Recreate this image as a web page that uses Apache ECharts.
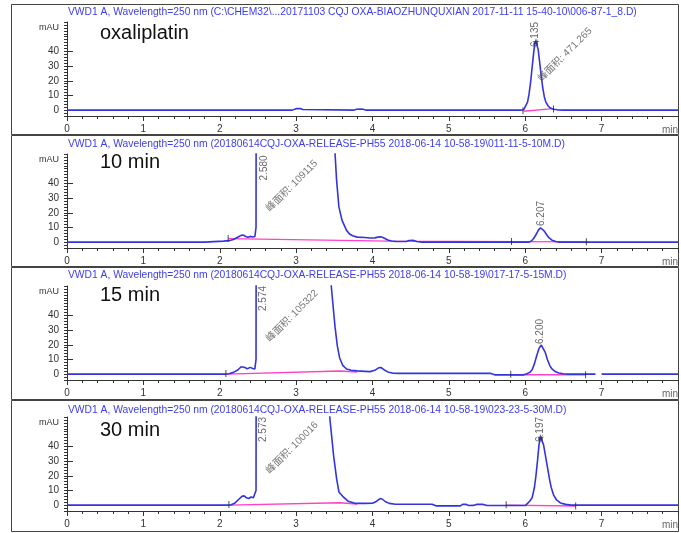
<!DOCTYPE html>
<html>
<head>
<meta charset="utf-8">
<script src="https://cdn.jsdelivr.net/npm/echarts@6/dist/echarts.min.js"></script>
<style>
html, body { margin: 0; padding: 0; background: #fff; }
#main { width: 681px; height: 533px; }
</style>
</head>
<body>
<div id="main"></div>
<script>
// run headers and sample names
var runTitles = [
  'VWD1 A, Wavelength=250 nm (C:\\CHEM32\\...20171103 CQJ OXA-BIAOZHUNQUXIAN 2017-11-11 15-40-10\\006-87-1_8.D)',
  'VWD1 A, Wavelength=250 nm (20180614CQJ-OXA-RELEASE-PH55 2018-06-14 10-58-19\\011-11-5-10M.D)',
  'VWD1 A, Wavelength=250 nm (20180614CQJ-OXA-RELEASE-PH55 2018-06-14 10-58-19\\017-17-5-15M.D)',
  'VWD1 A, Wavelength=250 nm (20180614CQJ-OXA-RELEASE-PH55 2018-06-14 10-58-19\\023-23-5-30M.D)'
];
var sampleNames = ['oxaliplatin', '10 min', '15 min', '30 min'];
var yTickLabels = [0, 10, 20, 30, 40];

// signal traces [min, mAU]; big solvent peak runs off scale
var traceOxa = [[0,0],[2.95,0],[2.97,0.6],[3.0,1.0],[3.06,1.0],[3.09,0.4],[3.11,0],[3.76,0],[3.79,0.6],[3.84,0.8],[3.88,0.6],[3.91,0],
  [5.94,0],[5.96,0.6],[5.98,0.3],[6.0,1.5],[6.03,5.5],[6.05,11],[6.07,19],[6.09,29],[6.11,39],[6.125,45],[6.14,47],[6.155,46],
  [6.17,41],[6.19,32],[6.21,23],[6.23,15],[6.25,9],[6.27,5.5],[6.3,2.8],[6.33,1.4],[6.37,0.6],[6.42,0.2],[6.5,0],[8,0]];
var trace10 = [[0,0],[1.8,0],[1.82,0.7],[2.05,0.7],[2.12,1.0],[2.18,1.8],[2.24,3.5],[2.28,4.6],[2.31,4.8],[2.34,3.8],[2.37,3.3],
  [2.4,3.9],[2.43,3.5],[2.46,3.8],[2.475,10],[2.485,500],[3.5,500],[3.51,60],[3.53,42],[3.56,24],[3.6,15],[3.66,8],[3.7,5.5],
  [3.74,4.3],[3.8,3.4],[3.9,3.2],[3.97,2.8],[4.03,2.9],[4.07,3.4],[4.11,3.6],[4.15,2.8],[4.2,1.5],[4.25,0.8],[4.3,0.5],[4.44,0.4],
  [4.48,1.1],[4.53,1.2],[4.58,0.4],[4.65,0],[6.05,0],[6.08,0.8],[6.11,2.5],[6.14,5],[6.17,8],[6.2,9.8],[6.22,9.5],[6.25,7.5],
  [6.28,5],[6.31,3],[6.35,1.3],[6.4,0.4],[6.45,0],[8,0]];
var trace15 = [[0,0],[2.06,0],[2.08,0.5],[2.12,0.3],[2.18,1.2],[2.24,3],[2.28,5],[2.3,6],[2.33,4.5],[2.36,3.6],[2.4,4.6],[2.43,3.8],
  [2.46,3.6],[2.475,10],[2.485,500],[3.45,500],[3.46,60],[3.49,43],[3.51,32],[3.54,19],[3.57,11],[3.61,6],[3.66,3.5],[3.72,2.6],
  [3.8,2.2],[3.9,1.9],[3.97,1.7],[4.03,2.6],[4.08,4.3],[4.11,4.5],[4.15,3],[4.2,1.5],[4.27,0.6],[4.35,0.5],[5.55,0.5],[5.6,-0.5],
  [5.98,-0.5],[6.02,0.3],[6.06,1.2],[6.09,3],[6.12,7],[6.15,12.5],[6.18,17.5],[6.21,19.8],[6.23,19],[6.26,15],[6.29,10],[6.32,6],
  [6.35,3.5],[6.39,1.8],[6.44,0.8],[6.5,0.3],[6.56,0],[6.92,0],[6.95,null],[7.0,0],[8,0]];
var trace30 = [[0,0],[2.1,0],[2.12,0.6],[2.15,0.3],[2.2,1.5],[2.25,4],[2.29,6],[2.32,6.3],[2.35,5],[2.38,4.5],[2.41,5.5],[2.44,5],
  [2.46,5],[2.475,10],[2.485,500],[3.43,500],[3.44,60],[3.49,34],[3.53,18],[3.56,9],[3.61,6],[3.68,2.7],[3.77,1.2],[3.9,1.2],
  [4.0,1.3],[4.05,2.5],[4.1,4.5],[4.13,4],[4.17,2.3],[4.22,1.2],[4.3,0.6],[4.78,0.6],[4.83,-0.5],[5.15,-0.5],[5.18,0.5],[5.22,0.6],
  [5.26,-0.3],[5.32,-0.2],[5.36,0.5],[5.45,0.5],[5.5,-0.3],[6.0,-0.3],[6.03,1.2],[6.06,2.8],[6.09,5],[6.12,12],[6.14,20],[6.16,30],
  [6.18,41],[6.2,46.5],[6.22,45.5],[6.24,41],[6.26,35],[6.28,29],[6.3,23],[6.32,17],[6.34,12],[6.37,7],[6.41,3.5],[6.46,1.5],
  [6.53,0.5],[6.6,0],[8,0]];

// integration baselines (magenta)
var baseOxa = [[5.98,-0.8],[6.36,1.0]];
var base10 = [[2.11,2.4],[4.22,0.7],[6.8,0.2]];
var base15 = [[2.09,0],[3.57,2.1],[3.8,1.4],[3.81,null],[5.81,-0.4],[6.79,-0.4]];
var base30 = [[2.12,0],[3.57,1.6],[3.8,0.8],[3.81,null],[5.75,0],[6.66,-0.6]];

// retention time labels [min, mAU, text]
var rtOxa = [[6.135, 43, '6.135']];
var rt10 = [[2.58, 42, '2.580'], [6.207, 11, '6.207']];
var rt15 = [[2.574, 43, '2.574'], [6.2, 20.5, '6.200']];
var rt30 = [[2.573, 43, '2.573'], [6.197, 43, '6.197']];

// peak area labels [min, mAU, text]
var areaOxa = [[6.19, 20.4, '峰面积: 471.265']];
var area10 = [[2.63, 21.8, '峰面积: 109115']];
var area15 = [[2.63, 23, '峰面积: 105322']];
var area30 = [[2.63, 22.4, '峰面积: 100016']];

// apex markers and integration event ticks
var apexOxa = [[6.14, 46.5]];
var apex30 = [[6.2, 46]];
var tickOxa = [[5.97, -0.5], [6.37, 0.8]];
var tick10 = [[2.11, 2.4], [5.82, 0.5], [6.8, 0.2]];
var tick15 = [[2.08, 0.5], [5.81, 0], [6.79, -0.4]];
var tick30 = [[2.12, 0.5], [5.75, 0.3], [6.66, -0.6]];

var traces = [traceOxa, trace10, trace15, trace30];
var bases = [baseOxa, base10, base15, base30];
var rts = [rtOxa, rt10, rt15, rt30];
var areas = [areaOxa, area10, area15, area30];
var apexes = [apexOxa, [], [], apex30];
var evTicks = [tickOxa, tick10, tick15, tick30];

var FONT = 'Liberation Sans, Arial, Noto Sans CJK SC, sans-serif';
var gridTops = [22, 154, 286, 417];
var gridH = 94;
var boxes = [[4, 130], [135, 131], [267, 132], [400, 131]];
var titleTops = [7, 139, 270, 405];
var nameTops = [23, 152, 285, 420];

var minorY = [];
for (var v = -4; v <= 60; v += 2) minorY.push(v);

var myChart = echarts.init(document.getElementById('main'));

var grids = [], xAxes = [], yAxes = [], series = [], titles = [], graphics = [];
for (var i = 0; i < 4; i++) {
  grids.push({ left: 67, right: 3, top: gridTops[i], height: gridH });
  xAxes.push({
    type: 'value', gridIndex: i, min: 0, max: 8, interval: 1,
    axisLine: { onZero: false, lineStyle: { color: '#333', width: 1 } },
    axisTick: { length: 5, lineStyle: { color: '#333' } },
    minorTick: { show: true, splitNumber: 5, length: 3, lineStyle: { color: '#333' } },
    splitLine: { show: false },
    axisLabel: {
      fontSize: 10, color: '#333', margin: 8, fontFamily: FONT,
      formatter: function (v) { return v === 8 ? '' : String(v); }
    },
    name: 'min', nameLocation: 'end', nameGap: 0,
    nameTextStyle: { align: 'right', verticalAlign: 'top', padding: [9, 0, 0, 0], color: '#666', fontSize: 10, fontFamily: FONT }
  });
  yAxes.push({
    type: 'value', gridIndex: i, min: -4, max: 60,
    axisLine: { show: true, onZero: false, lineStyle: { color: '#333', width: 1 } },
    axisTick: { show: true, length: 3, customValues: minorY, lineStyle: { color: '#333' } },
    axisLabel: {
      customValues: yTickLabels.concat([56]), fontSize: 10, color: '#333', margin: 8, fontFamily: FONT,
      formatter: function (v) { return v === 56 ? '{u|mAU}' : String(v); },
      rich: { u: { fontSize: 9, color: '#333', fontFamily: FONT } }
    },
    splitLine: { show: false }
  });
  yAxes.push({
    type: 'value', gridIndex: i, min: -4, max: 60,
    axisLine: { show: false },
    axisTick: { show: true, length: 6, customValues: yTickLabels, lineStyle: { color: '#333' } },
    axisLabel: { show: false },
    splitLine: { show: false }
  });

  series.push({
    type: 'line', xAxisIndex: i, yAxisIndex: 2 * i, data: bases[i], symbol: 'none',
    lineStyle: { color: '#ff40c8', width: 1.4 }, z: 2, silent: true
  });
  series.push({
    type: 'line', xAxisIndex: i, yAxisIndex: 2 * i, data: traces[i], symbol: 'none', clip: true,
    lineStyle: { color: '#3434dc', width: 1.6 }, z: 3, silent: true
  });
  series.push({
    type: 'scatter', xAxisIndex: i, yAxisIndex: 2 * i, data: evTicks[i], symbol: 'rect', symbolSize: [1, 7],
    itemStyle: { color: '#222' }, z: 4, silent: true
  });
  series.push({
    type: 'scatter', xAxisIndex: i, yAxisIndex: 2 * i, data: rts[i], symbolSize: 0, z: 5, silent: true,
    label: {
      show: true, position: 'inside', rotate: 90, align: 'left', verticalAlign: 'middle',
      fontSize: 10, color: '#444', fontFamily: FONT,
      formatter: function (p) { return p.data[2]; }
    }
  });
  series.push({
    type: 'scatter', xAxisIndex: i, yAxisIndex: 2 * i, data: areas[i], symbolSize: 0, z: 5, silent: true,
    label: {
      show: true, position: 'inside', rotate: 45, align: 'left', verticalAlign: 'middle',
      fontSize: 10, color: '#555', fontFamily: FONT,
      formatter: function (p) { return p.data[2]; }
    }
  });
  series.push({
    type: 'scatter', xAxisIndex: i, yAxisIndex: 2 * i, data: apexes[i], z: 6, silent: true,
    symbol: 'path://M0,-10L2.4,-3.1L9.5,-3.1L3.8,1.2L5.9,8.1L0,4L-5.9,8.1L-3.8,1.2L-9.5,-3.1L-2.4,-3.1Z',
    symbolSize: 7, itemStyle: { color: '#2a2a80' }
  });

  titles.push({
    text: runTitles[i], left: 68, top: titleTops[i], padding: 0,
    textStyle: { fontSize: 10.3, fontWeight: 'normal', color: '#3d3df0', fontFamily: FONT }
  });
  titles.push({
    text: sampleNames[i], left: 100, top: nameTops[i], padding: 0,
    textStyle: { fontSize: 20, fontWeight: 'normal', color: '#111', fontFamily: FONT }
  });
  graphics.push({
    type: 'rect', silent: true,
    shape: { x: 11.5, y: boxes[i][0] + 0.5, width: 667, height: boxes[i][1] },
    style: { fill: null, stroke: '#444', lineWidth: 1 }
  });
}

var option = {
  backgroundColor: '#ffffff',
  animation: false,
  title: titles,
  grid: grids,
  xAxis: xAxes,
  yAxis: yAxes,
  series: series,
  graphic: graphics
};
myChart.setOption(option);
</script>
</body>
</html>
